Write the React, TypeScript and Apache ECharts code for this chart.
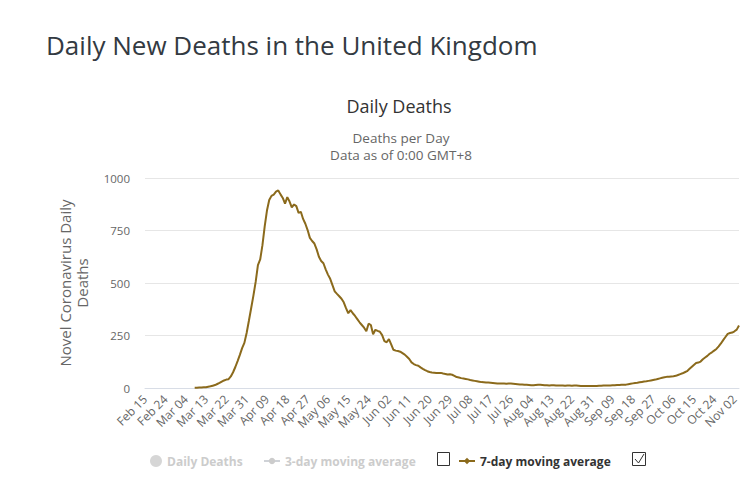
import React, { useEffect, useRef } from "react";
import * as echarts from "echarts";

const FONT = '"Open Sans", "DejaVu Sans", sans-serif';
const LINE_COLOR = "#8B6A1C";

// One category per day, 15 Feb 2020 through 4 Nov 2020
const START_DAY = Date.UTC(2020, 1, 15);
const DAY_COUNT = 264;
const MONTHS = ["Jan", "Feb", "Mar", "Apr", "May", "Jun", "Jul", "Aug", "Sep", "Oct", "Nov", "Dec"];
const categories: string[] = Array.from({ length: DAY_COUNT }, (_, i) => {
  const d = new Date(START_DAY + i * 86400000);
  return `${MONTHS[d.getUTCMonth()]} ${String(d.getUTCDate()).padStart(2, "0")}`;
});

const yMin = 0;
const yMax = 1000;
const yStep = 250;

const legendNames = ["Daily Deaths", "3-day moving average", "7-day moving average"];

// 7-day moving average of daily deaths; no value before 8 Mar
const sevenDayAverage: (number | null)[] = [
  null, null, null, null, null, null, null, null, null, null,
  null, null, null, null, null, null, null, null, null, null,
  null, null, 1, 1, 2, 2, 3, 4, 6, 8,
  11, 14, 19, 24, 30, 36, 40, 42, 55, 75,
  100, 128, 158, 190, 215, 262, 320, 380, 440, 505,
  585, 612, 680, 770, 845, 895, 915, 921, 935, 941,
  922, 905, 878, 909, 888, 860, 874, 866, 834, 839,
  805, 782, 752, 715, 700, 688, 660, 625, 605, 594,
  565, 540, 520, 490, 460, 448, 437, 425, 408, 380,
  356, 371, 356, 343, 328, 313, 300, 287, 270, 306,
  300, 256, 277, 272, 268, 252, 223, 218, 233, 208,
  182, 178, 176, 173, 166, 159, 149, 138, 122, 114,
  109, 106, 98, 91, 85, 80, 76, 74, 73, 72,
  71, 72, 69, 67, 64, 65, 63, 58, 52, 50,
  47, 45, 43, 41, 38, 36, 34, 32, 30, 28,
  27, 26, 26, 25, 24, 23, 22, 22, 21, 21,
  20, 21, 21, 20, 19, 18, 17, 17, 16, 15,
  14, 13, 13, 14, 15, 15, 14, 13, 13, 12,
  13, 13, 12, 12, 12, 12, 11, 12, 12, 11,
  12, 12, 11, 10, 10, 9, 9, 9, 9, 10,
  10, 11, 11, 12, 12, 12, 12, 13, 13, 14,
  14, 15, 15, 16, 18, 20, 22, 24, 25, 27,
  29, 31, 32, 34, 36, 38, 40, 43, 46, 49,
  51, 53, 54, 55, 56, 58, 62, 66, 70, 75,
  80, 90, 100, 110, 119, 121, 126, 137, 145, 153,
  163, 170, 178, 186, 198, 212, 228, 243, 258, 262,
  264, 270, 278, 298,
];

export default function App() {
  const ref = useRef<HTMLDivElement>(null);

  useEffect(() => {
    document.body.style.margin = "0";
    const chart = echarts.init(ref.current!, null, { renderer: "svg" });

    const legendText = { fontFamily: FONT, fontSize: 12, fontWeight: "bold" as const, color: "#333" };
    const subtitleText = { fontFamily: FONT, fontSize: 13.5, fontWeight: "normal" as const, color: "#666" };

    chart.setOption({
      animation: false,
      backgroundColor: "#fff",
      textStyle: { fontFamily: FONT },
      title: [
        {
          text: "Daily New Deaths in the United Kingdom",
          left: 41,
          top: 27,
          textStyle: { fontFamily: FONT, fontSize: 26, fontWeight: "normal", color: "#333a42" },
        },
        {
          text: "Daily Deaths",
          left: 394,
          top: 92,
          textAlign: "center",
          textStyle: { fontFamily: FONT, fontSize: 18, fontWeight: "normal", color: "#333" },
        },
        {
          text: "Deaths per Day",
          left: 396,
          top: 126,
          textAlign: "center",
          textStyle: subtitleText,
        },
        {
          text: "Data as of 0:00 GMT+8",
          left: 396,
          top: 143,
          textAlign: "center",
          textStyle: subtitleText,
        },
      ],
      grid: { left: 145, right: 10, top: 178, bottom: 90, containLabel: false },
      legend: [
        {
          data: [{ name: legendNames[0], icon: "circle" }],
          left: 145,
          top: 450,
          itemWidth: 12,
          itemHeight: 12,
          inactiveColor: "#ccc",
          selected: { [legendNames[0]]: false },
          textStyle: legendText,
        },
        {
          data: [legendNames[1]],
          left: 258,
          top: 450,
          itemWidth: 16,
          itemHeight: 8,
          inactiveColor: "#ccc",
          selected: { [legendNames[1]]: false },
          textStyle: legendText,
        },
        {
          data: [legendNames[2]],
          left: 453,
          top: 450,
          itemWidth: 16,
          itemHeight: 8,
          textStyle: legendText,
        },
      ],
      xAxis: {
        type: "category",
        data: categories,
        boundaryGap: false,
        axisLine: { show: true, lineStyle: { color: "#d8dde6" } },
        axisTick: { show: false },
        splitLine: { show: false },
        axisLabel: {
          rotate: 45,
          interval: 8,
          margin: 9,
          fontSize: 12,
          color: "#666",
          fontFamily: FONT,
        },
      },
      yAxis: {
        type: "value",
        min: yMin,
        max: yMax,
        interval: yStep,
        name: "Novel Coronavirus Daily\nDeaths",
        nameLocation: "middle",
        nameRotate: 90,
        nameGap: 55,
        nameTextStyle: { fontFamily: FONT, fontSize: 15, color: "#666", lineHeight: 17 },
        axisLine: { show: false },
        axisTick: { show: false },
        splitLine: { lineStyle: { color: "#e6e6e6" } },
        axisLabel: {
          fontSize: 11.5,
          color: "#666",
          margin: 15,
          fontFamily: FONT,
          formatter: (v: number) => String(v),
        },
      },
      series: [
        {
          name: legendNames[0],
          type: "scatter",
          symbol: "circle",
          itemStyle: { color: "#999" },
          data: [],
        },
        {
          name: legendNames[1],
          type: "line",
          symbol: "circle",
          itemStyle: { color: "#999" },
          data: [],
        },
        {
          name: legendNames[2],
          type: "line",
          symbol: "diamond",
          symbolSize: 8,
          showSymbol: false,
          connectNulls: false,
          itemStyle: { color: LINE_COLOR },
          lineStyle: { color: LINE_COLOR, width: 2 },
          data: sevenDayAverage,
        },
      ],
      graphic: [
        {
          type: "rect",
          shape: { x: 437.5, y: 452.5, width: 12, height: 13 },
          style: { fill: "#fff", stroke: "#333", lineWidth: 1 },
        },
        {
          type: "rect",
          shape: { x: 632.5, y: 452.5, width: 13, height: 13 },
          style: { fill: "#fff", stroke: "#333", lineWidth: 1 },
        },
        {
          type: "polyline",
          shape: { points: [[635, 459], [638.5, 463], [644, 454]] },
          style: { stroke: "#333", fill: "none", lineWidth: 1 },
        },
      ],
    });

    return () => chart.dispose();
  }, []);

  return <div ref={ref} style={{ width: 749, height: 478 }} />;
}
